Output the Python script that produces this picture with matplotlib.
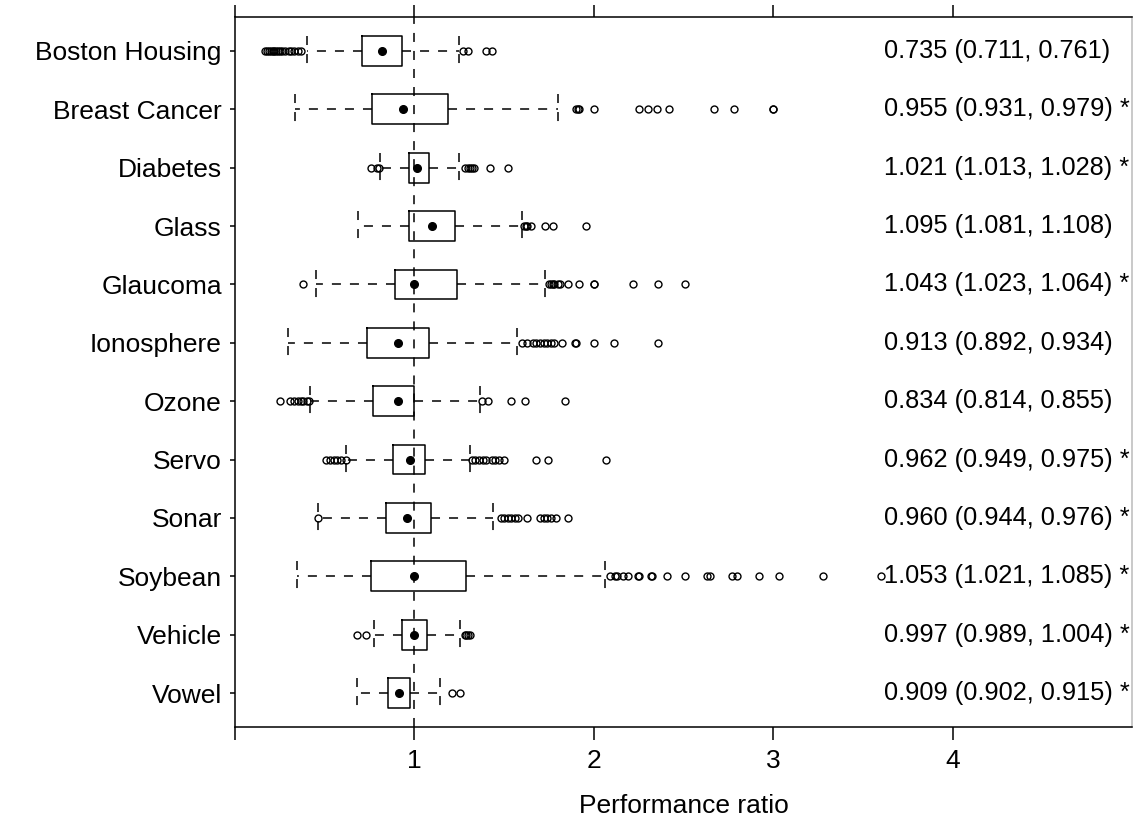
import numpy as np
import matplotlib
matplotlib.use("Agg")
import matplotlib.pyplot as plt

plt.rcParams['font.family'] = ['Liberation Sans', 'DejaVu Sans']

# datasets, top to bottom
names = ['Boston Housing', 'Breast Cancer', 'Diabetes', 'Glass', 'Glaucoma',
         'Ionosphere', 'Ozone', 'Servo', 'Sonar', 'Soybean', 'Vehicle', 'Vowel']

# box summaries
q1 = [0.71, 0.763, 0.97, 0.97, 0.89, 0.735, 0.77, 0.88, 0.84, 0.757, 0.93, 0.853]
q3 = [0.93, 1.19, 1.08, 1.225, 1.235, 1.08, 1.0, 1.06, 1.09, 1.287, 1.07, 0.975]
dot = [0.82, 0.936, 1.015, 1.10, 1.0, 0.91, 0.91, 0.975, 0.96, 1.0, 1.0, 0.914]
wlo = [0.40, 0.334, 0.81, 0.684, 0.45, 0.295, 0.42, 0.62, 0.46, 0.346, 0.775, 0.68]
whi = [1.25, 1.80, 1.25, 1.60, 1.73, 1.57, 1.365, 1.31, 1.44, 2.06, 1.255, 1.14]

outliers = [
    [0.17, 0.18, 0.19, 0.20, 0.21, 0.22, 0.23, 0.24, 0.25, 0.26, 0.28, 0.30, 0.31,
     0.33, 0.35, 0.37, 1.27, 1.30, 1.40, 1.43],
    [1.90, 1.91, 1.92, 2.00, 2.25, 2.30, 2.35, 2.42, 2.67, 2.78, 3.0, 3.0],
    [0.76, 0.79, 0.80, 1.28, 1.30, 1.31, 1.32, 1.33, 1.42, 1.52],
    [1.61, 1.62, 1.63, 1.65, 1.73, 1.77, 1.955],
    [0.38, 1.75, 1.76, 1.77, 1.78, 1.80, 1.81, 1.855, 1.92, 2.0, 2.0, 2.22, 2.36, 2.51],
    [1.60, 1.63, 1.66, 1.68, 1.70, 1.72, 1.74, 1.76, 1.78, 1.82, 1.895, 1.90,
     2.0, 2.11, 2.36],
    [0.25, 0.305, 0.33, 0.35, 0.37, 0.38, 0.40, 0.41, 1.375, 1.41, 1.54, 1.615, 1.84],
    [0.51, 0.53, 0.55, 0.57, 0.59, 0.62, 1.32, 1.34, 1.36, 1.38, 1.40, 1.43, 1.45,
     1.47, 1.50, 1.68, 1.745, 2.07],
    [0.46, 1.48, 1.50, 1.52, 1.54, 1.56, 1.58, 1.63, 1.70, 1.72, 1.74, 1.76, 1.79, 1.855],
    [2.09, 2.12, 2.13, 2.16, 2.19, 2.245, 2.25, 2.32, 2.325, 2.41, 2.51, 2.63, 2.65,
     2.77, 2.80, 2.92, 3.03, 3.28, 3.60],
    [0.68, 0.73, 1.28, 1.29, 1.30, 1.31],
    [1.21, 1.255],
]

ci_text = ['0.735 (0.711, 0.761)', '0.955 (0.931, 0.979) *', '1.021 (1.013, 1.028) *',
           '1.095 (1.081, 1.108)', '1.043 (1.023, 1.064) *', '0.913 (0.892, 0.934)',
           '0.834 (0.814, 0.855)', '0.962 (0.949, 0.975) *', '0.960 (0.944, 0.976) *',
           '1.053 (1.021, 1.085) *', '0.997 (0.989, 1.004) *', '0.909 (0.902, 0.915) *']

pos = np.arange(1, len(names) + 1)

stats = []
for i in range(len(names)):
    stats.append(dict(med=dot[i], mean=dot[i], q1=q1[i], q3=q3[i],
                      whislo=wlo[i], whishi=whi[i], fliers=outliers[i]))

fig = plt.figure(figsize=(11.33, 8.23), dpi=100)
ax = fig.add_axes([235/1133, 1 - 727/823, (1132 - 235)/1133, (727 - 17)/823])

lw = 1.1
dash = (0, (5.9, 5.9))
ax.bxp(stats, positions=pos, widths=0.51, capwidths=0.51, orientation='horizontal',
       showmeans=True, manage_ticks=False,
       boxprops=dict(color='black', linewidth=lw),
       whiskerprops=dict(color='black', linewidth=lw, linestyle=dash),
       capprops=dict(color='black', linewidth=lw, linestyle=dash),
       medianprops=dict(linestyle='none', linewidth=0),
       meanprops=dict(marker='o', markerfacecolor='black', markeredgecolor='black',
                      markersize=5.5),
       flierprops=dict(marker='o', markerfacecolor='none', markeredgecolor='black',
                       markersize=5, markeredgewidth=1.0))

ax.axvline(1, color='black', linewidth=lw, linestyle=dash, zorder=0)

for i in range(len(names)):
    ax.text(3.62, pos[i], ci_text[i], ha='left', va='center', fontsize=18.3)

ax.set_xlim(0, 5)
ax.set_ylim(12.58, 0.42)
ax.set_xticks([0, 1, 2, 3, 4])
ax.set_xticklabels(['', '1', '2', '3', '4'])
ax.set_yticks(pos)
ax.set_yticklabels(names)
ax.tick_params(axis='x', which='both', top=True, direction='out', length=9,
               width=lw, labelsize=19, pad=7)
ax.tick_params(axis='y', direction='out', length=3.5, width=lw, labelsize=19, pad=6)
for s in ax.spines.values():
    s.set_linewidth(lw)
ax.spines['right'].set_color('#bbbbbb')
ax.set_xlabel('Performance ratio', fontsize=19, labelpad=15)

fig.savefig('out.png', dpi=100)
